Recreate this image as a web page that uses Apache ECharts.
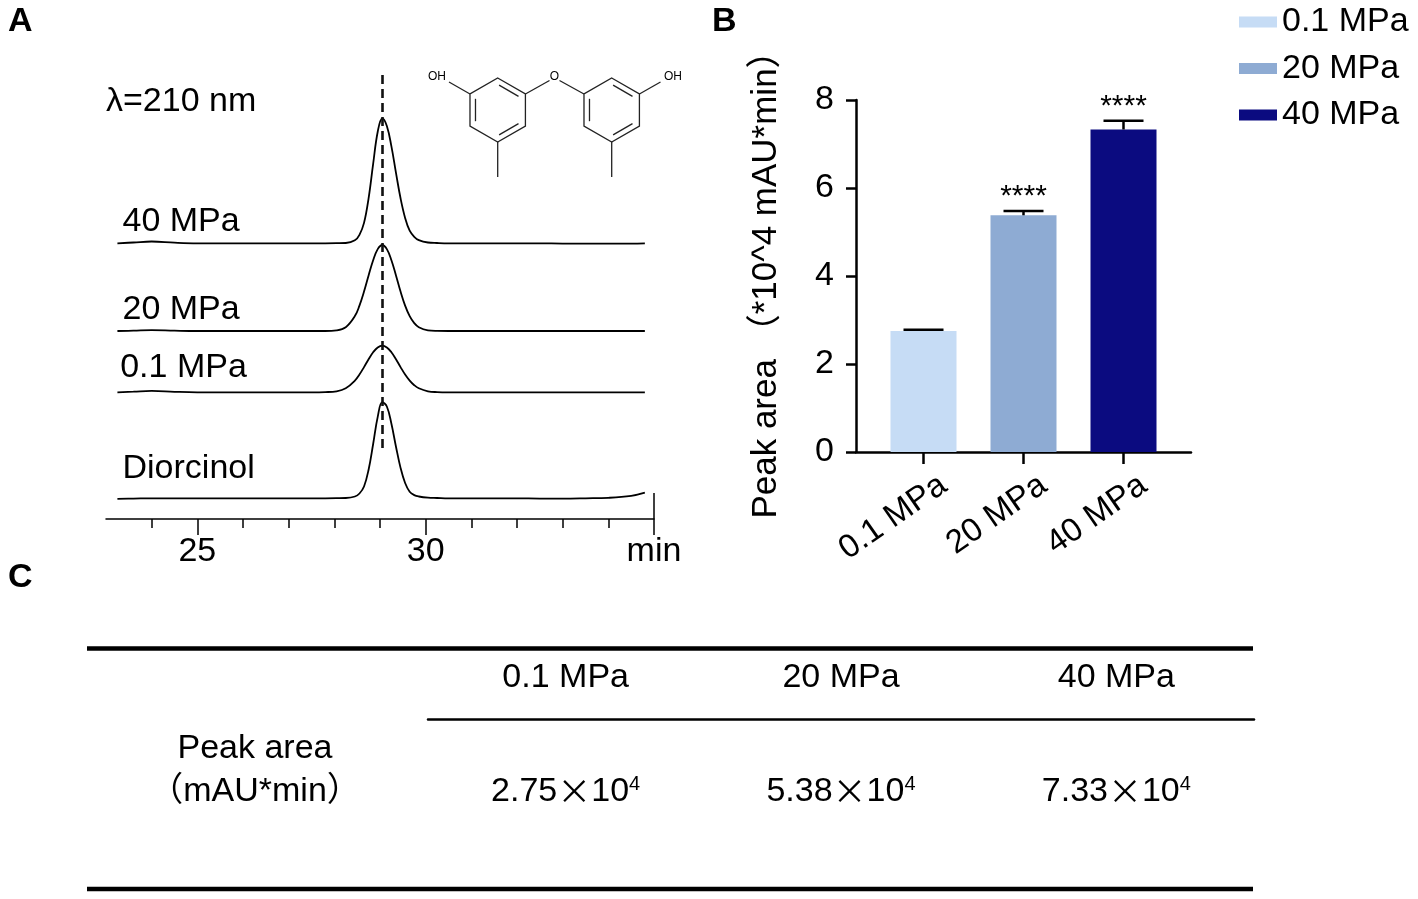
<!DOCTYPE html>
<html>
<head>
<meta charset="utf-8">
<script src="https://cdn.jsdelivr.net/npm/echarts@6/dist/echarts.min.js"></script>
<style>
  html, body { margin: 0; background: #fff; }
  #chart { width: 1418px; height: 899px; }
</style>
</head>
<body>
<div id="chart"></div>
<script>
// ---- panel A: chromatograms (signal above each trace's own baseline) ----
const times = [23.25, 23.6, 24, 24.5, 25, 25.5, 26, 26.5, 27, 27.5,
  27.8, 28.05, 28.25, 28.45, 28.55, 28.65, 28.75, 28.85, 28.95, 29.05,
  29.15, 29.25, 29.35, 29.45, 29.55, 29.65, 29.75, 29.85, 30.05, 30.25,
  30.5, 31, 31.5, 32, 32.5, 33, 33.5, 34, 34.5, 34.8];
const sigStd = [-0.5, -0.3, 0, 0, 0, 0, 0, 0, 0, 0,
  0, 0.1, 0.3, 1.8, 4.8, 11.8, 28.6, 54.3, 81.4, 96.1,
  91.8, 74.5, 51.6, 30.4, 15.3, 6.6, 3.2, 1.8, 0.6, 0.3,
  0, 0, 0, 0, -0.3, -0.3, 0, 0.5, 2.5, 5.7];
const sig01 = [0, 0.6, 1.4, 0.5, 0, 0, 0, 0, 0, 0,
  0.2, 1.0, 4.0, 11.7, 17.8, 25.2, 33, 40, 44.9, 46.7,
  44.9, 40, 33, 25.2, 17.8, 11.7, 7.1, 4.0, 1.0, 0.2,
  0, 0, 0, 0, 0, 0, 0, 0, 0, 0];
const sig20 = [0, 0.3, 0.8, 0.3, 0, 0, 0, 0, 0, 0,
  0, 0.65, 3.8, 14.9, 25.4, 39.4, 55.5, 70.8, 81.9, 86,
  81.9, 70.8, 55.5, 39.4, 25.4, 14.9, 7.9, 3.8, 0.65, 0.1,
  0, 0, 0, 0, 0, 0, 0, 0, 0, 0];
const sig40 = [0, 0.8, 1.8, 0.6, 0, 0, 0, 0, 0, 0,
  0, 0.1, 0.3, 3, 8.5, 20.4, 45, 79.4, 111.6, 125,
  117.3, 96.9, 70.4, 45, 25.4, 12.6, 6.5, 3.2, 0.8, 0.3,
  0, 0, 0, 0, 0, -0.3, -0.3, -0.3, -0.3, 0];
const traceNames = ['Diorcinol', '0.1 MPa', '20 MPa', '40 MPa'];
const traceSignals = [sigStd, sig01, sig20, sig40];
const traceOffsets = [20.7, 126.7, 188, 275.7];
const peakTime = 29.05;
const minorTickTimes = [24, 26, 27, 28, 29, 31, 32, 33, 34];
const majorTickTimes = [25, 30, 35];
const majorTickLabels = ['25', '30', 'min'];

// ---- panel B / C: peak areas (x10^4 mAU*min) ----
const pressures = ['0.1 MPa', '20 MPa', '40 MPa'];
const barMeans = [2.75, 5.38, 7.33];
const barErrors = [0.03, 0.10, 0.20];
const significance = ['', '****', '****'];

const barColors = ['#c6dcf5', '#8eabd3', '#0b0b80'];
const FONT = "'Liberation Sans', Arial, 'Noto Sans CJK SC', sans-serif";
const labelLift = [30, 25, 21, 22];
const labelShift = 0.2;

const chart = echarts.init(document.getElementById('chart'), null, { renderer: 'canvas' });

function txt(text, x, y, size, opts) {
  return {
    type: 'text', silent: true,
    style: Object.assign({
      text: text, x: x, y: y, fill: '#000',
      font: size + 'px ' + FONT,
      align: 'left', verticalAlign: 'middle',
      textAlign: 'left', textVerticalAlign: 'middle'
    }, opts || {})
  };
}
function seg(x1, y1, x2, y2, w) {
  return { type: 'line', silent: true, shape: { x1, y1, x2, y2 },
    style: { stroke: '#222', lineWidth: w || 1.3 } };
}

// chemical structure (diorcinol), drawn as plain strokes
function ringParts(cx, cy, r) {
  const pts = [-90, -30, 30, 90, 150, 210].map(a =>
    [cx + r * Math.cos(a * Math.PI / 180), cy + r * Math.sin(a * Math.PI / 180)]);
  const parts = [{ type: 'polygon', silent: true, shape: { points: pts },
    style: { fill: 'none', stroke: '#222', lineWidth: 1.3 } }];
  [[5, 4], [0, 1], [2, 3]].forEach(([i, j]) => {
    const a = pts[i], b = pts[j];
    const mx = (a[0] + b[0]) / 2, my = (a[1] + b[1]) / 2;
    const dx = cx - mx, dy = cy - my, d = Math.hypot(dx, dy);
    const ox = dx / d * 5.5, oy = dy / d * 5.5;
    const p = [a[0] + (b[0] - a[0]) * 0.15 + ox, a[1] + (b[1] - a[1]) * 0.15 + oy];
    const q = [a[0] + (b[0] - a[0]) * 0.85 + ox, a[1] + (b[1] - a[1]) * 0.85 + oy];
    parts.push(seg(p[0], p[1], q[0], q[1]));
  });
  return { pts, parts };
}
const ringL = ringParts(497.7, 110, 32);
const ringR = ringParts(611.7, 110, 32);
const structure = [].concat(ringL.parts, ringR.parts, [
  seg(ringL.pts[5][0], ringL.pts[5][1], 449, 82),
  seg(ringL.pts[1][0], ringL.pts[1][1], 549.5, 80.5),
  seg(559.5, 80.5, ringR.pts[5][0], ringR.pts[5][1]),
  seg(ringR.pts[1][0], ringR.pts[1][1], 660.5, 82),
  seg(ringL.pts[3][0], ringL.pts[3][1], ringL.pts[3][0], 177),
  seg(ringR.pts[3][0], ringR.pts[3][1], ringR.pts[3][0], 177),
  txt('OH', 437, 77, 12, { align: 'center', textAlign: 'center' }),
  txt('O', 554.5, 77, 12, { align: 'center', textAlign: 'center' }),
  txt('OH', 673, 77, 12, { align: 'center', textAlign: 'center' })
]);

const traceSeries = traceNames.map((name, i) => ({
  type: 'line', name: 'trace ' + name, xAxisIndex: 0, yAxisIndex: 0,
  data: times.map((t, k) => [t, traceOffsets[i] + traceSignals[i][k]]),
  smooth: 0.4, showSymbol: false, symbol: 'none',
  lineStyle: { color: '#000', width: 1.8 }, itemStyle: { color: '#000' },
  silent: true, z: 3,
  markPoint: {
    symbol: 'rect', symbolSize: 1, silent: true,
    itemStyle: { color: 'rgba(0,0,0,0)' },
    label: { show: true, position: 'right', distance: 0, formatter: name,
      color: '#000', fontSize: 34, fontFamily: FONT },
    data: [{ coord: [i === 1 ? 23.3 : 23.35, traceOffsets[i] + labelLift[i]] }]
  },
  markLine: i === 0 ? {
    symbol: ['none', 'none'], silent: true, label: { show: false },
    data: [
      [{ coord: [peakTime, 71], lineStyle: { type: [9, 5], width: 2.6, color: '#111' } },
       { coord: [peakTime, 446] }],
      [{ coord: [35, 0], lineStyle: { type: 'solid', width: 1.5, color: '#000' } },
       { coord: [35, 26] }]
    ]
  } : undefined
}));

const barSeries = pressures.map((p, i) => ({
  type: 'bar', name: p, xAxisIndex: 2, yAxisIndex: 1,
  data: [[i, barMeans[i]]], barWidth: 66, barGap: '-100%',
  itemStyle: { color: barColors[i] }, silent: true
}));

const errorSeries = {
  type: 'custom', xAxisIndex: 2, yAxisIndex: 1, silent: true, z: 5,
  data: barMeans.map((m, i) => [i, m, barErrors[i]]),
  encode: { x: 0, y: 1 },
  renderItem(params, api) {
    const x = api.value(0), m = api.value(1), e = api.value(2);
    const base = api.coord([x, m]), top = api.coord([x, m + e]);
    const hw = 20;
    const children = [
      { type: 'line', shape: { x1: base[0], y1: base[1], x2: top[0], y2: top[1] },
        style: { stroke: '#000', lineWidth: 2.5 } },
      { type: 'line', shape: { x1: top[0] - hw, y1: top[1], x2: top[0] + hw, y2: top[1] },
        style: { stroke: '#000', lineWidth: 2.5 } }
    ];
    const s = significance[params.dataIndex];
    if (s) {
      children.push({ type: 'text', style: { text: s, x: top[0], y: top[1] + 1,
        align: 'center', verticalAlign: 'bottom', textAlign: 'center', textVerticalAlign: 'bottom',
        font: '30px ' + FONT, fill: '#000' } });
    }
    return { type: 'group', children };
  }
};

const tableSeries = {
  type: 'scatter', xAxisIndex: 3, yAxisIndex: 2, silent: true,
  symbolSize: 1, itemStyle: { color: 'rgba(0,0,0,0)', opacity: 1 },
  data: pressures.map((p, i) => [i, 0]),
  label: {
    show: true, position: 'inside', color: '#000', opacity: 1, textBorderWidth: 0,
    formatter: p => '{n|' + barMeans[p.dataIndex].toFixed(2) + '}{x|×}{n|10}{s|4}',
    rich: {
      n: { fontSize: 34, fontFamily: FONT, color: '#000', lineHeight: 34 },
      x: { fontSize: 34, fontFamily: "'Noto Sans CJK SC'", color: '#000', lineHeight: 34 },
      s: { fontSize: 20, fontFamily: FONT, color: '#000', lineHeight: 20, verticalAlign: 'top' }
    }
  },
  emphasis: { disabled: true }
};

chart.setOption({
  animation: false,
  backgroundColor: '#fff',
  textStyle: { fontFamily: FONT },
  grid: [
    { left: 106, width: 548, top: 69, height: 450, outerBoundsMode: 'none' },
    { left: 856, width: 335, top: 100, height: 352, outerBoundsMode: 'none' },
    { left: 428, width: 826, top: 719, height: 145, outerBoundsMode: 'none' }
  ],
  legend: {
    orient: 'vertical', left: 1234, top: 0, icon: 'rect',
    itemWidth: 38, itemHeight: 11, itemGap: 12.5, selectedMode: false,
    textStyle: { fontSize: 34, color: '#000', fontFamily: FONT },
    data: pressures
  },
  xAxis: [
    { gridIndex: 0, type: 'value', min: 23, max: 35, interval: 1,
      axisLine: { show: true, onZero: false, lineStyle: { color: '#000', width: 1.5 } },
      axisTick: { show: true, customValues: minorTickTimes, length: 9, lineStyle: { color: '#000', width: 1.5 } },
      axisLabel: { show: false }, splitLine: { show: false } },
    { gridIndex: 0, type: 'value', min: 23, max: 35, interval: 1, position: 'bottom',
      axisLine: { show: false, onZero: false },
      axisTick: { show: true, customValues: majorTickTimes, length: 16, lineStyle: { color: '#000', width: 1.5 } },
      axisLabel: { show: true, customValues: majorTickTimes, margin: 16, fontSize: 34, fontFamily: FONT, color: '#000',
        formatter: v => majorTickLabels[majorTickTimes.indexOf(v)] },
      splitLine: { show: false } },
    { gridIndex: 1, type: 'value', min: -0.675, max: 2.675,
      axisLine: { show: true, onZero: false, lineStyle: { color: '#000', width: 2.5 } },
      axisTick: { show: true, customValues: [0, 1, 2], length: 12, lineStyle: { color: '#000', width: 2.5 } },
      axisLabel: { show: true, customValues: [0, 1, 2].map(v => v + labelShift), rotate: 35, margin: 30,
        fontSize: 33, fontFamily: FONT, color: '#000',
        formatter: v => pressures[Math.round(v - labelShift)] },
      splitLine: { show: false } },
    { gridIndex: 2, type: 'category', data: pressures, position: 'top',
      axisLine: { show: true, lineStyle: { color: '#000', width: 2.5 } },
      axisTick: { show: false },
      axisLabel: { interval: 0, margin: 24, fontSize: 34, fontFamily: FONT, color: '#000' } }
  ],
  yAxis: [
    { gridIndex: 0, type: 'value', min: 0, max: 450, show: false },
    { gridIndex: 1, type: 'value', min: 0, max: 8, interval: 2,
      axisLine: { show: true, onZero: false, lineStyle: { color: '#000', width: 2.5 } },
      axisTick: { show: true, length: 10, lineStyle: { color: '#000', width: 2.5 } },
      axisLabel: { margin: 22, fontSize: 34, fontFamily: FONT, color: '#000' },
      splitLine: { show: false },
      name: 'Peak area （*10^4 mAU*min）', nameLocation: 'middle', nameGap: 72,
      nameTextStyle: { fontSize: 35, fontFamily: FONT, color: '#000' } },
    { gridIndex: 2, type: 'category', data: ['Peak area'], show: false }
  ],
  series: [].concat(traceSeries, barSeries, [errorSeries, tableSeries]),
  graphic: [].concat([
    txt('A', 8, 22, 34, { font: 'bold 34px ' + FONT }),
    txt('B', 712, 22, 34, { font: 'bold 34px ' + FONT }),
    txt('C', 8, 578, 34, { font: 'bold 34px ' + FONT }),
    txt('λ=210 nm', 106, 102, 34),
    txt('Peak area\n（mAU*min）', 255, 770, 34,
      { align: 'center', textAlign: 'center', lineHeight: 43 }),
    { type: 'line', silent: true, shape: { x1: 87, y1: 648.5, x2: 1253, y2: 648.5 },
      style: { stroke: '#000', lineWidth: 4.5 } },
    { type: 'line', silent: true, shape: { x1: 87, y1: 889, x2: 1253, y2: 889 },
      style: { stroke: '#000', lineWidth: 4.5 } }
  ], structure)
});

window.addEventListener('resize', () => chart && chart.resize());
</script>
</body>
</html>
